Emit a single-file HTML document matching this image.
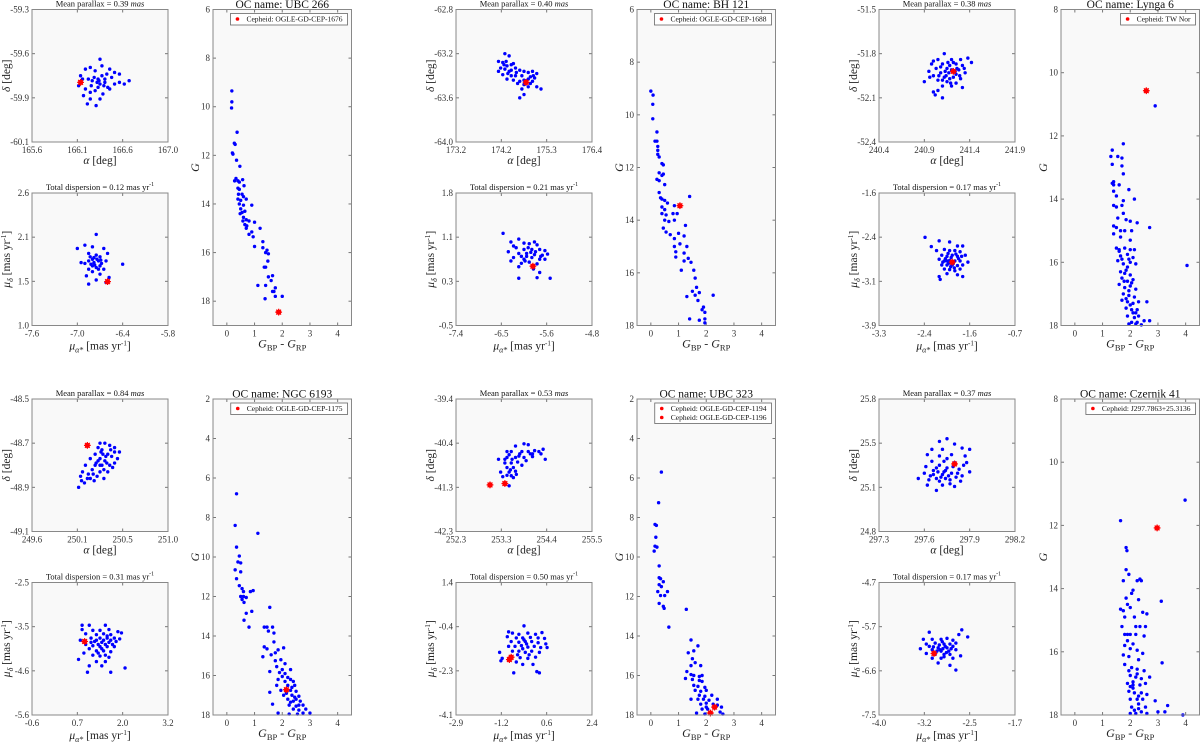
<!DOCTYPE html>
<html><head><meta charset="utf-8"><style>
html,body{margin:0;padding:0;background:#fff;}
svg{display:block;font-family:"Liberation Serif",serif;}
</style></head><body>
<svg id="fig" width="1200" height="743" viewBox="0 0 1200 743"></svg>
<script>
// ---------- DATA ----------
// Cluster 1: UBC 266
const c1Name = "UBC 266", c1Parallax = "0.39", c1Disp = "0.12";
const c1Ceph = ["Cepheid: OGLE-GD-CEP-1676"];
const c1SkyX = ["165.6","166.1","166.6","167.0"], c1SkyY = ["-59.3","-59.6","-59.9","-60.1"];
const c1PmX = ["-7.6","-7.0","-6.4","-5.8"], c1PmY = ["2.6","2.1","1.5","1.0"];
const c1CmdYTicks = [6,8,10,12,14,16,18], c1CmdYLim = [6,19];
const c1Sky = [[166.3,-59.6],[166.2,-59.65],[166.25,-59.67],[166.32,-59.64],[166.4,-59.66],[166.45,-59.68],[166.15,-59.66],[166.1,-59.7],[166.35,-59.72],[166.5,-59.69],[166.55,-59.75],[166.6,-59.73],[166.45,-59.75],[166.4,-59.78],[166.3,-59.75],[166.28,-59.72],[166.22,-59.73],[166.18,-59.72],[166.12,-59.72],[166.08,-59.76],[166.15,-59.78],[166.2,-59.8],[166.25,-59.79],[166.33,-59.81],[166.38,-59.77],[166.3,-59.84],[166.26,-59.88],[166.2,-59.84],[166.13,-59.82],[166.17,-59.87],[166.28,-59.77],[166.35,-59.74],[166.42,-59.71],[166.5,-59.74],[166.27,-59.74],[166.32,-59.7],[166.29,-59.73],[166.34,-59.76],[166.24,-59.71],[166.37,-59.69],[166.21,-59.76]];
const c1SkyCep = [[166.1,-59.74]];
const c1Pm = [[-6.75,2.1],[-7.0,1.93],[-6.9,1.97],[-6.8,1.95],[-6.65,1.93],[-6.6,1.87],[-6.85,1.87],[-6.75,1.85],[-6.7,1.83],[-6.8,1.8],[-6.85,1.78],[-6.72,1.78],[-6.78,1.76],[-6.68,1.75],[-6.62,1.78],[-6.9,1.75],[-6.95,1.76],[-6.8,1.72],[-6.75,1.7],[-6.7,1.72],[-6.85,1.68],[-6.65,1.68],[-6.4,1.74],[-6.8,1.65],[-6.7,1.62],[-6.88,1.6],[-6.75,1.55],[-6.85,1.5],[-6.58,1.58],[-6.62,1.52],[-6.78,1.82],[-6.82,1.74],[-6.74,1.8],[-6.77,1.73],[-6.72,1.68],[-6.83,1.83],[-6.69,1.79]];
const c1PmCep = [[-6.6,1.53]];
const c1Cmd = [[0.18,9.35],[0.18,9.8],[0.17,10.05],[0.37,11.05],[0.27,11.5],[0.3,11.55],[0.2,11.9],[0.22,11.95],[0.35,12.2],[0.47,12.45],[0.33,12.95],[0.28,13.05],[0.4,13.05],[0.45,13.1],[0.57,13.0],[0.62,13.25],[0.4,13.35],[0.45,13.4],[0.42,13.6],[0.55,13.6],[0.6,13.7],[0.4,13.8],[0.5,13.85],[0.7,13.8],[0.45,14.0],[0.6,14.05],[0.9,14.05],[0.5,14.2],[0.65,14.3],[0.55,14.35],[0.48,14.4],[0.6,14.55],[0.58,14.7],[0.7,14.65],[0.8,14.7],[1.0,14.75],[0.65,14.85],[0.72,14.9],[0.7,15.0],[1.2,15.0],[0.9,15.15],[0.8,15.25],[0.95,15.35],[1.0,15.75],[1.3,15.55],[1.3,15.8],[1.45,15.9],[1.4,16.0],[1.5,16.05],[1.48,16.35],[1.4,16.6],[1.35,16.6],[1.5,17.0],[1.65,16.95],[1.6,17.15],[1.12,17.35],[1.4,17.35],[1.75,17.45],[1.65,17.6],[1.7,17.6],[1.75,17.8],[2.0,17.8],[1.38,17.9]];
const c1CmdCep = [[1.87,18.45]];

// Cluster 2: BH 121
const c2Name = "BH 121", c2Parallax = "0.40", c2Disp = "0.21";
const c2Ceph = ["Cepheid: OGLE-GD-CEP-1688"];
const c2SkyX = ["173.2","174.2","175.3","176.4"], c2SkyY = ["-62.8","-63.2","-63.6","-64.0"];
const c2PmX = ["-7.4","-6.5","-5.6","-4.8"], c2PmY = ["1.8","1.1","0.3","-0.5"];
const c2CmdYTicks = [6,8,10,12,14,16,18], c2CmdYLim = [6,18];
const c2Sky = [[174.35,-63.2],[174.45,-63.22],[174.2,-63.27],[174.3,-63.28],[174.5,-63.3],[174.55,-63.29],[174.4,-63.31],[174.25,-63.33],[174.35,-63.34],[174.6,-63.33],[174.2,-63.36],[174.45,-63.36],[174.7,-63.35],[174.8,-63.36],[174.9,-63.37],[175.0,-63.36],[175.1,-63.38],[174.3,-63.39],[174.5,-63.4],[174.6,-63.4],[174.75,-63.4],[174.95,-63.41],[175.05,-63.42],[174.4,-63.43],[174.55,-63.44],[174.7,-63.45],[174.85,-63.45],[175.0,-63.45],[174.65,-63.47],[174.8,-63.48],[174.95,-63.47],[175.1,-63.5],[174.75,-63.52],[174.9,-63.5],[174.8,-63.57],[174.7,-63.6],[175.2,-63.52],[174.8,-63.44],[174.38,-63.27],[174.5,-63.35],[174.62,-63.37],[174.9,-63.43],[175.02,-63.4],[174.42,-63.38],[174.33,-63.3]];
const c2SkyCep = [[174.85,-63.46]];
const c2Pm = [[-6.5,1.1],[-6.35,0.95],[-6.2,1.0],[-6.3,0.88],[-6.1,0.93],[-6.0,0.92],[-5.9,0.95],[-5.85,0.9],[-6.4,0.78],[-6.25,0.85],[-6.1,0.82],[-5.95,0.82],[-5.8,0.82],[-5.7,0.8],[-6.2,0.75],[-6.05,0.75],[-5.9,0.73],[-5.75,0.72],[-5.65,0.74],[-6.3,0.68],[-6.1,0.65],[-5.95,0.68],[-5.8,0.65],[-5.7,0.65],[-6.35,0.62],[-6.15,0.58],[-6.0,0.6],[-5.85,0.57],[-6.2,0.52],[-5.92,0.48],[-5.8,0.42],[-6.2,0.32],[-5.85,0.33],[-5.6,0.32],[-6.05,0.7],[-5.88,0.78],[-6.02,0.85],[-6.15,0.7],[-5.78,0.7],[-6.08,0.62],[-5.97,0.77]];
const c2PmCep = [[-5.93,0.53]];
const c2Cmd = [[0.0,9.1],[0.08,9.25],[0.07,9.6],[0.07,10.15],[0.22,10.65],[0.15,11.0],[0.22,11.0],[0.25,11.2],[0.25,11.35],[0.25,11.5],[0.3,11.6],[0.4,11.85],[0.45,11.9],[0.3,12.2],[0.4,12.3],[0.22,12.45],[0.3,12.5],[0.45,12.25],[0.5,12.65],[0.3,12.95],[0.35,13.15],[0.4,13.2],[0.5,13.25],[0.6,13.35],[0.4,13.5],[0.5,13.6],[0.85,13.45],[1.4,13.1],[0.4,13.75],[0.55,13.8],[0.8,13.75],[0.95,13.75],[0.5,14.0],[0.65,14.05],[0.85,14.0],[1.25,14.2],[0.45,14.3],[0.55,14.45],[0.7,14.55],[1.0,14.5],[1.2,14.6],[0.85,14.7],[0.85,15.0],[1.05,14.9],[1.3,15.0],[0.9,15.2],[1.2,15.25],[0.9,15.4],[1.35,15.45],[1.2,15.55],[1.45,15.6],[1.1,15.9],[1.55,15.9],[1.6,16.2],[1.65,16.55],[1.5,16.7],[1.6,16.85],[1.3,16.9],[1.75,16.75],[2.25,16.85],[1.7,17.05],[1.85,17.4],[1.95,17.5],[1.9,17.3],[1.4,17.75],[1.75,17.8],[1.95,17.75],[1.95,17.9]];
const c2CmdCep = [[1.05,13.45]];

// Cluster 3: Lynga 6
const c3Name = "Lynga 6", c3Parallax = "0.38", c3Disp = "0.17";
const c3Ceph = ["Cepheid: TW Nor"];
const c3SkyX = ["240.4","240.9","241.4","241.9"], c3SkyY = ["-51.5","-51.8","-52.1","-52.4"];
const c3PmX = ["-3.3","-2.4","-1.6","-0.7"], c3PmY = ["-1.6","-2.4","-3.1","-3.9"];
const c3CmdYTicks = [8,10,12,14,16,18], c3CmdYLim = [8,18];
const c3Sky = [[241.12,-51.8],[241.0,-51.85],[241.05,-51.84],[241.2,-51.84],[241.3,-51.84],[241.38,-51.83],[241.42,-51.86],[240.98,-51.87],[241.1,-51.87],[241.25,-51.87],[241.32,-51.88],[241.03,-51.9],[241.15,-51.9],[241.2,-51.91],[241.28,-51.91],[240.95,-51.92],[241.08,-51.93],[241.17,-51.93],[241.25,-51.94],[241.35,-51.93],[241.0,-51.95],[241.12,-51.96],[241.22,-51.96],[241.3,-51.97],[240.9,-51.99],[241.05,-51.98],[241.15,-51.99],[241.25,-52.0],[241.1,-52.02],[241.2,-52.02],[241.32,-52.03],[241.05,-52.05],[241.0,-52.06],[241.02,-52.08],[241.1,-52.1],[241.18,-51.88],[241.26,-51.9],[241.14,-51.95],[241.08,-51.89],[241.22,-51.86],[241.29,-51.95],[241.18,-51.97],[241.06,-51.95],[241.13,-51.92],[241.24,-51.92],[241.16,-51.86],[240.96,-51.96],[241.34,-51.9],[241.19,-52.0],[241.1,-51.98]];
const c3SkyCep = [[241.22,-51.92]];
const c3Pm = [[-2.42,-2.37],[-2.3,-2.53],[-2.15,-2.43],[-1.95,-2.45],[-1.8,-2.52],[-1.7,-2.52],[-2.2,-2.6],[-2.05,-2.58],[-1.95,-2.6],[-1.85,-2.6],[-1.75,-2.62],[-2.1,-2.68],[-2.0,-2.7],[-1.9,-2.68],[-1.8,-2.7],[-1.65,-2.68],[-2.15,-2.75],[-2.05,-2.78],[-1.95,-2.77],[-1.85,-2.78],[-1.75,-2.78],[-1.6,-2.8],[-2.1,-2.85],[-2.0,-2.85],[-1.9,-2.85],[-1.8,-2.86],[-1.7,-2.85],[-2.05,-2.92],[-1.95,-2.93],[-1.85,-2.95],[-1.75,-2.92],[-2.0,-3.0],[-1.8,-3.02],[-2.15,-3.05],[-2.13,-3.1],[-1.7,-3.05],[-1.92,-2.72],[-1.88,-2.82],[-1.98,-2.65],[-1.83,-2.66],[-2.03,-2.74],[-1.78,-2.74],[-1.97,-2.82],[-1.86,-2.9],[-2.08,-2.8],[-1.72,-2.7],[-1.93,-2.88],[-2.0,-2.78]];
const c3PmCep = [[-1.9,-2.8]];
const c3Cmd = [[1.75,12.25],[1.35,12.45],[1.3,12.65],[1.55,12.65],[1.7,12.7],[1.35,12.9],[1.7,12.95],[1.75,13.2],[1.4,13.45],[1.35,13.5],[1.4,13.55],[1.6,13.55],[1.95,13.7],[1.4,13.75],[1.5,13.9],[2.15,14.0],[1.75,14.05],[1.4,14.2],[1.5,14.25],[1.7,14.2],[1.75,14.45],[1.55,14.6],[1.4,14.85],[1.5,14.9],[1.85,14.65],[2.0,14.7],[2.25,14.75],[2.7,14.9],[1.65,15.0],[1.8,15.0],[2.05,15.0],[1.4,15.1],[1.65,15.2],[2.0,15.3],[1.5,15.55],[1.6,15.6],[1.8,15.55],[2.0,15.6],[2.15,15.6],[1.65,15.8],[1.9,15.75],[2.1,15.85],[1.55,15.95],[1.75,16.05],[2.0,16.0],[2.2,16.05],[4.05,16.1],[1.65,16.3],[1.85,16.25],[2.0,16.4],[1.7,16.5],[1.9,16.6],[2.1,16.55],[1.6,16.7],[1.8,16.8],[2.0,16.75],[2.2,16.85],[1.75,17.0],[1.95,17.05],[2.15,17.1],[1.7,17.2],[1.9,17.25],[2.1,17.3],[2.3,17.25],[2.6,17.25],[1.85,17.45],[2.05,17.5],[2.25,17.5],[1.9,17.7],[2.15,17.75],[2.3,17.7],[2.05,17.9],[2.25,17.9],[2.5,17.85],[2.7,17.85],[1.95,17.95],[2.2,17.95],[2.4,17.98],[2.9,11.05],[1.6,15.65],[1.8,16.35],[1.95,16.9],[2.1,17.6],[1.7,15.9],[1.9,16.15],[2.05,16.65],[1.85,17.15],[2.0,17.35],[2.2,17.6],[1.78,16.6],[1.95,15.9]];
const c3CmdCep = [[2.58,10.57]];

// Cluster 4: NGC 6193
const c4Name = "NGC 6193", c4Parallax = "0.84", c4Disp = "0.31";
const c4Ceph = ["Cepheid: OGLE-GD-CEP-1175"];
const c4SkyX = ["249.6","250.1","250.5","251.0"], c4SkyY = ["-48.5","-48.7","-48.9","-49.1"];
const c4PmX = ["-0.6","0.7","2.0","3.2"], c4PmY = ["-2.5","-3.5","-4.6","-5.6"];
const c4CmdYTicks = [2,4,6,8,10,12,14,16,18], c4CmdYLim = [2,18];
const c4Sky = [[250.3,-48.7],[250.35,-48.7],[250.4,-48.71],[250.45,-48.72],[250.28,-48.72],[250.32,-48.73],[250.5,-48.74],[250.25,-48.75],[250.38,-48.75],[250.42,-48.76],[250.48,-48.77],[250.2,-48.77],[250.3,-48.77],[250.35,-48.78],[250.45,-48.79],[250.25,-48.8],[250.32,-48.8],[250.4,-48.8],[250.15,-48.8],[250.22,-48.82],[250.3,-48.83],[250.38,-48.83],[250.12,-48.83],[250.18,-48.84],[250.27,-48.85],[250.1,-48.85],[250.2,-48.86],[250.34,-48.86],[250.14,-48.88],[250.11,-48.87],[250.08,-48.9],[250.24,-48.87],[250.45,-48.74],[250.36,-48.76],[250.28,-48.78],[250.33,-48.75],[250.37,-48.79],[250.31,-48.74],[250.41,-48.73],[250.26,-48.79],[250.34,-48.82],[250.23,-48.84],[250.17,-48.86],[250.3,-48.8],[250.43,-48.81]];
const c4SkyCep = [[250.17,-48.71]];
const c4Pm = [[0.8,-3.5],[1.0,-3.5],[1.45,-3.5],[0.8,-3.6],[1.1,-3.62],[1.3,-3.62],[1.55,-3.6],[1.8,-3.65],[1.9,-3.68],[0.9,-3.7],[1.2,-3.72],[1.4,-3.7],[1.6,-3.72],[1.05,-3.8],[1.3,-3.8],[1.5,-3.8],[1.7,-3.8],[1.85,-3.82],[0.75,-3.85],[1.15,-3.88],[1.35,-3.9],[1.55,-3.9],[1.75,-3.88],[0.9,-3.95],[1.1,-3.98],[1.3,-4.0],[1.5,-4.0],[1.7,-4.0],[1.0,-4.05],[1.2,-4.1],[1.4,-4.1],[1.6,-4.12],[0.85,-4.15],[1.1,-4.2],[1.3,-4.22],[1.55,-4.25],[1.2,-4.35],[1.45,-4.35],[0.7,-4.3],[1.0,-4.45],[1.35,-4.45],[0.95,-4.6],[1.6,-4.6],[2.0,-4.5],[1.25,-3.95],[1.4,-3.85],[1.45,-3.95],[1.6,-3.85],[1.35,-4.05],[1.2,-3.85],[1.5,-3.75],[1.25,-4.15],[1.45,-4.2],[1.65,-3.95],[1.05,-3.9]];
const c4PmCep = [[0.87,-3.88]];
const c4Cmd = [[0.35,6.8],[0.3,8.4],[1.12,8.8],[0.35,9.5],[0.45,9.95],[0.4,10.25],[0.5,10.3],[0.3,10.65],[0.5,10.75],[0.35,11.1],[0.45,11.45],[0.55,11.6],[0.6,11.75],[0.85,11.75],[0.95,11.7],[0.5,12.0],[0.6,12.0],[0.7,12.05],[0.55,12.15],[0.62,12.3],[1.55,12.55],[0.7,12.85],[0.9,12.75],[0.62,13.2],[0.8,13.55],[1.35,13.55],[1.45,13.55],[1.65,13.55],[1.5,13.75],[1.7,13.85],[1.7,14.3],[1.35,14.55],[1.45,14.65],[1.85,14.7],[1.75,14.85],[1.6,14.95],[2.05,14.6],[1.3,15.05],[1.75,15.25],[1.95,15.2],[2.1,15.4],[1.8,15.55],[2.0,15.7],[1.55,15.8],[1.9,15.85],[2.1,15.9],[2.3,15.7],[2.0,16.05],[2.2,16.1],[1.85,16.2],[2.1,16.3],[2.4,16.3],[1.8,16.5],[2.2,16.5],[2.45,16.5],[1.95,16.75],[2.3,16.75],[2.5,16.8],[2.05,17.0],[2.35,17.0],[2.6,17.05],[2.2,17.2],[2.4,17.3],[2.65,17.3],[1.65,17.45],[2.25,17.5],[2.5,17.55],[2.75,17.5],[2.4,17.7],[2.6,17.75],[2.85,17.7],[1.85,17.9],[2.55,17.95],[2.75,17.9],[3.0,17.9],[2.25,17.95],[1.55,16.85],[2.3,16.2],[2.5,17.2],[2.35,16.6],[2.45,17.1],[2.6,17.5],[2.3,17.35],[2.15,16.9]];
const c4CmdCep = [[2.15,16.72]];

// Cluster 5: UBC 323
const c5Name = "UBC 323", c5Parallax = "0.53", c5Disp = "0.50";
const c5Ceph = ["Cepheid: OGLE-GD-CEP-1194","Cepheid: OGLE-GD-CEP-1196"];
const c5SkyX = ["252.3","253.3","254.4","255.5"], c5SkyY = ["-39.4","-40.4","-41.3","-42.3"];
const c5PmX = ["-2.9","-1.2","0.6","2.4"], c5PmY = ["1.4","-0.4","-2.3","-4.1"];
const c5CmdYTicks = [2,4,6,8,10,12,14,16,18], c5CmdYLim = [2,18];
const c5Sky = [[253.9,-40.38],[254.0,-40.4],[253.7,-40.43],[254.35,-40.5],[253.5,-40.55],[253.6,-40.55],[253.85,-40.55],[254.0,-40.55],[254.15,-40.53],[254.25,-40.55],[254.3,-40.6],[254.1,-40.6],[253.8,-40.6],[253.3,-40.72],[253.5,-40.68],[253.7,-40.68],[253.9,-40.68],[254.1,-40.66],[254.4,-40.72],[253.45,-40.8],[253.6,-40.8],[253.75,-40.78],[253.85,-40.85],[253.5,-40.9],[253.65,-40.9],[253.35,-41.0],[253.55,-41.0],[253.7,-40.98],[253.5,-41.07],[253.6,-41.08],[253.4,-41.1],[253.65,-41.12],[253.72,-41.05],[253.55,-41.3],[253.95,-40.75],[253.55,-40.62],[253.62,-40.72],[253.78,-40.65],[253.58,-40.95],[253.45,-40.72],[254.05,-40.6]];
const c5SkyCep = [[253.1,-41.28],[253.45,-41.25]];
const c5Pm = [[-0.25,-0.4],[-0.85,-0.65],[-0.7,-0.7],[-0.45,-0.75],[-0.1,-0.7],[0.2,-0.75],[0.45,-0.68],[-0.9,-0.85],[-0.55,-0.9],[-0.3,-0.9],[0.0,-0.88],[0.3,-0.9],[0.55,-0.92],[-0.75,-1.05],[-0.45,-1.08],[-0.2,-1.05],[0.05,-1.05],[0.3,-1.1],[0.6,-1.15],[-0.85,-1.25],[-0.6,-1.25],[-0.35,-1.22],[-0.1,-1.28],[0.15,-1.25],[0.4,-1.3],[-1.2,-1.5],[-0.7,-1.45],[-0.45,-1.45],[-0.2,-1.5],[0.05,-1.45],[0.35,-1.5],[-1.1,-1.75],[-0.75,-1.75],[-0.4,-1.72],[-0.1,-1.75],[0.2,-1.7],[-0.55,-1.9],[-0.3,-2.0],[0.1,-2.0],[-0.65,-2.35],[0.25,-2.3],[0.35,-2.35],[-1.15,-1.85],[0.65,-1.3],[-0.15,-1.15],[-0.3,-1.35],[-0.5,-1.6],[-0.05,-1.6],[-0.25,-0.98]];
const c5PmCep = [[-0.82,-1.8],[-0.75,-1.7]];
const c5Cmd = [[0.38,5.7],[0.28,7.25],[0.15,8.35],[0.2,8.4],[0.18,9.0],[0.15,9.45],[0.22,9.5],[0.12,9.7],[0.3,10.45],[0.3,11.05],[0.35,11.1],[0.45,11.25],[0.3,11.4],[0.38,11.5],[0.25,11.75],[0.6,11.75],[0.35,11.95],[0.5,11.95],[0.3,12.35],[0.45,12.5],[0.48,12.6],[1.28,12.65],[0.65,13.55],[1.45,14.2],[1.7,14.5],[1.35,14.85],[1.55,14.75],[1.5,15.15],[1.6,15.35],[1.45,15.5],[1.8,15.5],[1.3,15.8],[1.45,15.95],[1.55,16.0],[1.75,16.05],[1.85,16.0],[1.25,16.15],[1.5,16.2],[1.75,16.25],[1.85,16.3],[1.55,16.5],[1.7,16.55],[1.95,16.6],[1.6,16.75],[1.8,16.8],[2.0,16.75],[1.75,17.0],[1.95,17.05],[2.2,17.0],[1.45,17.2],[1.7,17.2],[1.9,17.2],[2.1,17.25],[2.4,17.2],[1.8,17.45],[2.0,17.4],[2.25,17.45],[2.4,17.5],[1.85,17.7],[2.05,17.7],[2.3,17.65],[2.55,17.6],[1.95,17.95],[2.15,17.9],[2.5,17.85],[2.6,17.95],[2.0,17.6],[1.65,17.9]];
const c5CmdCep = [[2.3,17.6],[2.15,17.9]];

// Cluster 6: Czernik 41
const c6Name = "Czernik 41", c6Parallax = "0.37", c6Disp = "0.17";
const c6Ceph = ["Cepheid: J297.7863+25.3136"];
const c6SkyX = ["297.3","297.6","297.9","298.2"], c6SkyY = ["25.8","25.5","25.1","24.8"];
const c6PmX = ["-4.0","-3.2","-2.5","-1.7"], c6PmY = ["-4.7","-5.7","-6.6","-7.5"];
const c6CmdYTicks = [8,10,12,14,16,18], c6CmdYLim = [8,18];
const c6Sky = [[297.75,25.5],[297.7,25.48],[297.8,25.46],[297.65,25.42],[297.72,25.42],[297.85,25.43],[297.9,25.42],[297.62,25.38],[297.7,25.37],[297.78,25.38],[297.87,25.37],[297.65,25.33],[297.73,25.33],[297.8,25.32],[297.88,25.32],[297.61,25.29],[297.68,25.28],[297.75,25.28],[297.83,25.27],[297.9,25.25],[297.6,25.24],[297.66,25.23],[297.72,25.23],[297.78,25.24],[297.85,25.22],[297.63,25.19],[297.7,25.18],[297.77,25.19],[297.84,25.18],[297.62,25.15],[297.72,25.15],[297.8,25.14],[297.68,25.11],[297.86,25.3],[297.74,25.26],[297.69,25.25],[297.79,25.29],[297.56,25.2],[297.71,25.21],[297.76,25.22],[297.74,25.2],[297.68,25.2],[297.73,25.25],[297.81,25.21],[297.66,25.26],[297.7,25.3],[297.77,25.16],[297.64,25.22],[297.82,25.24],[297.75,25.35]];
const c6SkyCep = [[297.8,25.31]];
const c6Pm = [[-3.15,-5.75],[-2.6,-5.7],[-2.65,-5.8],[-2.5,-5.85],[-3.25,-5.9],[-3.1,-5.9],[-2.95,-5.9],[-2.85,-5.88],[-2.75,-5.92],[-3.2,-6.0],[-3.05,-5.98],[-2.9,-6.0],[-2.8,-6.0],[-2.7,-5.98],[-3.15,-6.05],[-3.0,-6.08],[-2.85,-6.08],[-2.75,-6.05],[-3.3,-6.1],[-3.1,-6.12],[-2.95,-6.15],[-2.82,-6.15],[-2.7,-6.12],[-3.2,-6.2],[-3.05,-6.22],[-2.9,-6.22],[-2.8,-6.22],[-3.1,-6.3],[-2.95,-6.3],[-2.75,-6.3],[-2.62,-6.25],[-3.0,-6.4],[-2.8,-6.45],[-2.7,-6.55],[-2.97,-6.12],[-2.88,-6.05],[-2.92,-6.1],[-2.98,-6.02],[-3.02,-6.15],[-2.86,-6.18],[-2.93,-5.95],[-3.08,-6.06],[-2.78,-6.1],[-2.9,-6.27]];
const c6PmCep = [[-3.07,-6.2]];
const c6Cmd = [[1.65,11.85],[3.98,11.2],[1.85,12.7],[1.88,12.8],[1.85,13.4],[1.95,13.55],[1.75,13.75],[2.25,13.75],[2.35,13.7],[2.4,13.75],[2.1,14.05],[2.05,14.15],[1.85,14.3],[2.3,14.35],[3.12,14.4],[1.9,14.5],[1.65,14.65],[1.75,14.7],[2.0,14.6],[2.45,14.75],[2.6,14.8],[1.8,14.9],[2.15,14.9],[1.7,15.2],[2.2,15.2],[2.35,15.2],[2.55,15.2],[1.8,15.45],[1.9,15.45],[2.0,15.45],[2.2,15.45],[2.5,15.5],[1.9,15.65],[2.1,15.75],[1.8,15.8],[2.0,15.9],[2.25,15.95],[2.45,16.05],[1.75,16.1],[1.95,16.15],[2.3,16.25],[3.15,16.35],[1.8,16.4],[2.05,16.5],[2.25,16.55],[2.5,16.6],[2.0,16.75],[2.2,16.8],[2.4,16.85],[2.7,16.8],[1.9,17.0],[2.1,17.05],[2.35,17.05],[2.55,17.0],[1.95,17.25],[2.15,17.3],[2.4,17.3],[2.6,17.35],[2.0,17.5],[2.25,17.5],[2.45,17.5],[2.9,17.55],[3.35,17.7],[2.05,17.75],[2.3,17.8],[2.55,17.75],[2.0,17.95],[2.2,17.95],[2.4,17.9],[2.6,17.95],[3.0,17.9],[3.25,17.9],[3.9,18.0],[2.1,17.15],[2.3,17.65],[1.95,16.6],[2.1,16.95],[2.3,17.4],[2.15,17.85],[2.0,17.1],[2.25,16.7]];
const c6CmdCep = [[2.97,12.08]];

const cmdXTicks = [0,1,2,3,4], cmdXLim = [-0.5,4.5];

// ---------- DRAWING ----------
const NS = "http://www.w3.org/2000/svg";
const svg = document.getElementById("fig");
function el(tag, attrs, parent){
  const e = document.createElementNS(NS, tag);
  for (const k in attrs) e.setAttribute(k, attrs[k]);
  (parent||svg).appendChild(e);
  return e;
}
function txt(s, attrs, parent){ const t = el("text", attrs, parent); t.textContent = s; return t; }

function makeAxes(name, x0, y0, w, h, xlim, ylim, flipY){
  const g = el("g", {});
  
  
  const bg = el("rect", {x:x0, y:y0, width:w, height:h, fill:"#f9f9f9", stroke:"none"}, g);
  
  
  const sx = v => x0 + (v - xlim[0]) / (xlim[1] - xlim[0]) * w;
  const sy = v => flipY ? y0 + (v - ylim[0]) / (ylim[1] - ylim[0]) * h
                        : y0 + h - (v - ylim[0]) / (ylim[1] - ylim[0]) * h;
  return {g, x0, y0, w, h, sx, sy};
}
function finishAxes(ax){
  const b = el("rect", {x:ax.x0, y:ax.y0, width:ax.w, height:ax.h, fill:"none", stroke:"#888", "stroke-width":1}, ax.g);
  
  
}
function xTick(ax, px, label){
  el("line", {x1:px, x2:px, y1:ax.y0+ax.h, y2:ax.y0+ax.h-3, stroke:"#777"}, ax.g);
  el("line", {x1:px, x2:px, y1:ax.y0, y2:ax.y0+3, stroke:"#777"}, ax.g);
  const t = txt(label, {x:px, y:ax.y0+ax.h+11, "font-size":9, "text-anchor":"middle", fill:"#333"}, ax.g);
  
  
}
function yTick(ax, py, label){
  el("line", {x1:ax.x0, x2:ax.x0+3, y1:py, y2:py, stroke:"#777"}, ax.g);
  el("line", {x1:ax.x0+ax.w, x2:ax.x0+ax.w-3, y1:py, y2:py, stroke:"#777"}, ax.g);
  const t = txt(label, {x:ax.x0-3, y:py+3, "font-size":9, "text-anchor":"end", fill:"#333"}, ax.g);
  
  
}
function dots(ax, pts, name){
  for (const p of pts){
    const c = el("circle", {cx:ax.sx(p[0]), cy:ax.sy(p[1]), r:1.7, fill:"#0000ff"}, ax.g);
    
    
  }
}
function cepheids(ax, pts){
  for (const p of pts){
    const x = ax.sx(p[0]), y = ax.sy(p[1]);
    const s = el("g", {}, ax.g);
    
    
    el("circle", {cx:x, cy:y, r:2.6, fill:"#ff0000"}, s);
    for (let a = 0; a < 4; a++){
      const ang = a * Math.PI / 4;
      el("line", {x1:x-3.4*Math.cos(ang), y1:y-3.4*Math.sin(ang), x2:x+3.4*Math.cos(ang), y2:y+3.4*Math.sin(ang), stroke:"#ff0000", "stroke-width":1.2}, s);
    }
  }
}
function indexTicks(ax, xl, yl){
  xl.forEach((l,i)=> xTick(ax, ax.x0 + i/(xl.length-1)*ax.w, l));
  yl.forEach((l,i)=> yTick(ax, ax.y0 + i/(yl.length-1)*ax.h, l));
}

function drawCluster(k, col, row, name, par, disp, cephNames, skyX, skyY, sky, skyCep, pmX, pmY, pm, pmCep, cmd, cmdCep, cmdYT, cmdYL){
  const skyL = [32, 456, 879][col], cmdL = [213, 637, 1061][col];
  const cmdW = 138.5;
  const top = row === 0 ? 9.5 : 399;
  const skyH = 132.5, pmTop = top + 183.5;
  const cx = skyL + 68;

  const skyLim = [parseFloat(skyX[0]), parseFloat(skyX[3])], skyYL = [parseFloat(skyY[3]), parseFloat(skyY[0])];
  const a1 = makeAxes("sky-position-panel-" + k, skyL, top, 136, skyH, skyLim, skyYL, false);
  indexTicks(a1, skyX, skyY);
  dots(a1, sky, "member-star");
  cepheids(a1, skyCep);
  finishAxes(a1);
  const t1 = txt("", {x:cx, y:top-3, "font-size":8.5, "text-anchor":"middle", fill:"#111"});
  
  
  t1.innerHTML = 'Mean parallax = ' + par + ' <tspan font-style="italic">mas</tspan>';
  const xl1 = txt("", {x:cx, y:top+skyH+22, "font-size":11.5, "text-anchor":"middle", fill:"#222"});
  
  
  xl1.innerHTML = '<tspan font-style="italic">α</tspan> [deg]';
  const yl1 = txt("", {x:0, y:0, "font-size":11.5, "text-anchor":"middle", fill:"#222", transform:`translate(${skyL-22},${top+skyH/2}) rotate(-90)`});
  
  
  yl1.innerHTML = '<tspan font-style="italic">δ</tspan> [deg]';

  const pmLim = [parseFloat(pmX[0]), parseFloat(pmX[3])], pmYL = [parseFloat(pmY[3]), parseFloat(pmY[0])];
  const a2 = makeAxes("proper-motion-panel-" + k, skyL, pmTop, 136, skyH, pmLim, pmYL, false);
  indexTicks(a2, pmX, pmY);
  dots(a2, pm, "member-star");
  cepheids(a2, pmCep);
  finishAxes(a2);
  const t2 = txt("", {x:cx, y:pmTop-3, "font-size":8.5, "text-anchor":"middle", fill:"#111"});
  
  
  t2.innerHTML = 'Total dispersion = ' + disp + ' mas yr<tspan dy="-4" font-size="6">-1</tspan>';
  const xl2 = txt("", {x:cx, y:pmTop+skyH+24, "font-size":11.5, "text-anchor":"middle", fill:"#222"});
  
  
  xl2.innerHTML = '<tspan font-style="italic">μ</tspan><tspan dy="3" font-size="8" font-style="italic">α*</tspan><tspan dy="-3"> [mas yr</tspan><tspan dy="-4" font-size="7">-1</tspan><tspan dy="4">]</tspan>';
  const yl2 = txt("", {x:0, y:0, "font-size":11.5, "text-anchor":"middle", fill:"#222", transform:`translate(${skyL-22},${pmTop+skyH/2}) rotate(-90)`});
  
  
  yl2.innerHTML = '<tspan font-style="italic">μ</tspan><tspan dy="3" font-size="8" font-style="italic">δ</tspan><tspan dy="-3"> [mas yr</tspan><tspan dy="-4" font-size="7">-1</tspan><tspan dy="4">]</tspan>';

  const cmdH = (pmTop + skyH) - top;
  const a3 = makeAxes("cmd-panel-" + k, cmdL, top, cmdW, cmdH, cmdXLim, cmdYL, true);
  cmdXTicks.forEach(v => xTick(a3, a3.sx(v), String(v)));
  cmdYT.forEach(v => yTick(a3, a3.sy(v), String(v)));
  dots(a3, cmd, "member-star");
  cepheids(a3, cmdCep);
  finishAxes(a3);
  const t3 = txt("OC name: " + name, {x:cmdL + cmdW/2, y:top-1.5, "font-size":11.5, "text-anchor":"middle", fill:"#111"});
  
  
  const xl3 = txt("", {x:cmdL + cmdW/2, y:top+cmdH+22, "font-size":12, "text-anchor":"middle", fill:"#222"});
  
  
  xl3.innerHTML = '<tspan font-style="italic">G</tspan><tspan dy="3" font-size="8.5">BP</tspan><tspan dy="-3"> - </tspan><tspan font-style="italic">G</tspan><tspan dy="3" font-size="8.5">RP</tspan>';
  const yl3 = txt("G", {x:0, y:0, "font-size":12, "font-style":"italic", "text-anchor":"middle", fill:"#222", transform:`translate(${cmdL-14},${top+cmdH/2}) rotate(-90)`});
  
  

  const lg = el("g", {});
  
  
  const box = el("rect", {x:0, y:top+4, width:10, height:cephNames.length*9+2.5, fill:"#ffffff", stroke:"#666", "stroke-width":0.8}, lg);
  let maxW = 0; const items = [];
  cephNames.forEach((n,i)=>{
    const ty = top + 4 + 8 + i*9;
    const t = txt(n, {x:0, y:ty, "font-size":7.5, fill:"#111"}, lg);
    
    
    const d = el("circle", {cx:0, cy:ty-2.5, r:1.8, fill:"#ff0000"}, lg);
    items.push([t,d]);
    maxW = Math.max(maxW, t.getComputedTextLength());
  });
  const bw = maxW + 21, bx = cmdL + cmdW - 4 - bw;
  box.setAttribute("x", bx); box.setAttribute("width", bw);
  items.forEach(([t,d])=>{ t.setAttribute("x", bx+16); d.setAttribute("cx", bx+7); });
}

drawCluster(1,0,0,c1Name,c1Parallax,c1Disp,c1Ceph,c1SkyX,c1SkyY,c1Sky,c1SkyCep,c1PmX,c1PmY,c1Pm,c1PmCep,c1Cmd,c1CmdCep,c1CmdYTicks,c1CmdYLim);
drawCluster(2,1,0,c2Name,c2Parallax,c2Disp,c2Ceph,c2SkyX,c2SkyY,c2Sky,c2SkyCep,c2PmX,c2PmY,c2Pm,c2PmCep,c2Cmd,c2CmdCep,c2CmdYTicks,c2CmdYLim);
drawCluster(3,2,0,c3Name,c3Parallax,c3Disp,c3Ceph,c3SkyX,c3SkyY,c3Sky,c3SkyCep,c3PmX,c3PmY,c3Pm,c3PmCep,c3Cmd,c3CmdCep,c3CmdYTicks,c3CmdYLim);
drawCluster(4,0,1,c4Name,c4Parallax,c4Disp,c4Ceph,c4SkyX,c4SkyY,c4Sky,c4SkyCep,c4PmX,c4PmY,c4Pm,c4PmCep,c4Cmd,c4CmdCep,c4CmdYTicks,c4CmdYLim);
drawCluster(5,1,1,c5Name,c5Parallax,c5Disp,c5Ceph,c5SkyX,c5SkyY,c5Sky,c5SkyCep,c5PmX,c5PmY,c5Pm,c5PmCep,c5Cmd,c5CmdCep,c5CmdYTicks,c5CmdYLim);
drawCluster(6,2,1,c6Name,c6Parallax,c6Disp,c6Ceph,c6SkyX,c6SkyY,c6Sky,c6SkyCep,c6PmX,c6PmY,c6Pm,c6PmCep,c6Cmd,c6CmdCep,c6CmdYTicks,c6CmdYLim);
</script>
</body></html>
